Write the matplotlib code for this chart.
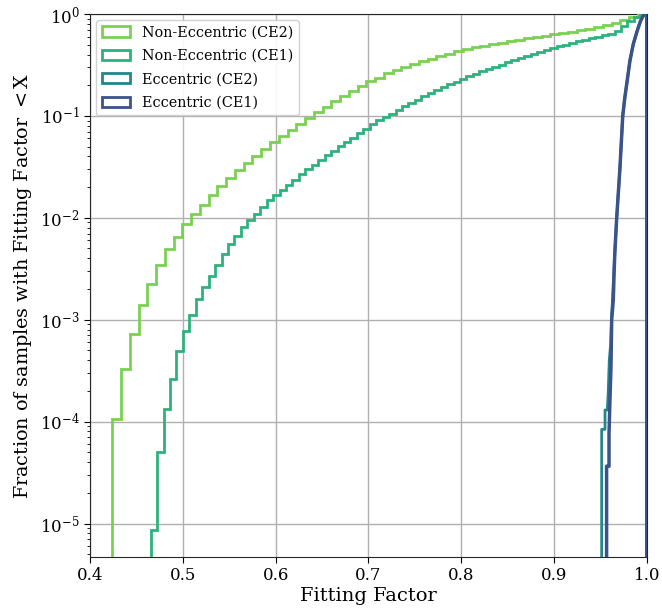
import numpy as np
import matplotlib
matplotlib.use("Agg")
import matplotlib.pyplot as plt
from matplotlib.patches import Patch


# cumulative fraction per bin, non-eccentric searches
ce2_lo = 0.424
ce2_frac = [
    1.05e-4, 3.31e-4, 7.29e-4, 1.40e-3, 2.25e-3, 3.45e-3, 4.94e-3, 6.46e-3,
    8.60e-3, 1.09e-2, 1.35e-2, 1.67e-2, 2.07e-2, 2.48e-2, 2.96e-2, 3.48e-2,
    4.06e-2, 4.75e-2, 5.53e-2, 6.37e-2, 7.26e-2, 8.35e-2, 9.51e-2, 0.108,
    0.122, 0.141, 0.158, 0.177, 0.197, 0.218, 0.238, 0.261,
    0.282, 0.302, 0.323, 0.344, 0.365, 0.385, 0.406, 0.430,
    0.451, 0.470, 0.488, 0.506, 0.523, 0.541, 0.559, 0.577,
    0.595, 0.613, 0.631, 0.650, 0.669, 0.689, 0.710, 0.738,
    0.777, 0.822, 0.879, 0.941, 1.0,
]

ce1_lo = 0.4654
ce1_frac = [
    8.59e-6, 5.04e-5, 1.34e-4, 2.60e-4, 4.89e-4, 7.67e-4, 1.12e-3, 1.58e-3,
    2.10e-3, 2.66e-3, 3.41e-3, 4.37e-3, 5.56e-3, 6.70e-3, 8.09e-3, 9.41e-3,
    1.09e-2, 1.29e-2, 1.48e-2, 1.66e-2, 1.88e-2, 2.12e-2, 2.36e-2, 2.66e-2,
    2.98e-2, 3.33e-2, 3.70e-2, 4.15e-2, 4.57e-2, 5.04e-2, 5.53e-2, 6.12e-2,
    6.74e-2, 7.48e-2, 8.27e-2, 9.04e-2, 9.73e-2, 0.105, 0.115, 0.124,
    0.133, 0.144, 0.155, 0.166, 0.178, 0.190, 0.204, 0.217,
    0.230, 0.244, 0.258, 0.273, 0.288, 0.303, 0.318, 0.335,
    0.352, 0.369, 0.387, 0.405, 0.424, 0.443, 0.463, 0.482,
    0.501, 0.521, 0.540, 0.560, 0.579, 0.599, 0.620, 0.641,
    0.678, 0.759, 0.860, 0.941, 1.0,
]

# eccentric searches: fitting factor vs cumulative fraction
ecc_ce2_ff = [0.9514, 0.9514, 0.9550, 0.9550, 0.9575, 0.9585, 0.9596, 0.9611,
              0.9621, 0.9657, 0.9676, 0.9711, 0.9741, 0.9763, 0.9784, 0.9819,
              0.9855, 0.9896, 0.9932, 0.9962, 0.9990, 1.0, 1.0]
ecc_ce2_frac = [1e-7, 8.4e-5, 8.4e-5, 1.3e-4, 1.3e-4, 2.0e-4, 4.0e-4, 5.8e-4,
                1.07e-3, 4.8e-3, 1.0e-2, 3.1e-2, 0.1, 0.15, 0.206, 0.35,
                0.508, 0.68, 0.85, 0.962, 0.995, 1.0, 1e-7]

ecc_ce1_ff = [0.9567, 0.9567, 0.9593, 0.9593, 0.9603, 0.9614, 0.9622, 0.9639,
              0.9650, 0.9657, 0.9676, 0.9711, 0.9741, 0.9763, 0.9784, 0.9819,
              0.9855, 0.9896, 0.9932, 0.9962, 0.9990, 1.0, 1.0]
ecc_ce1_frac = [1e-7, 3.65e-5, 3.65e-5, 7.5e-5, 1.6e-4, 3.4e-4, 1.0e-3, 1.55e-3,
                3.3e-3, 4.8e-3, 1.0e-2, 3.1e-2, 0.1, 0.15, 0.206, 0.35,
                0.508, 0.68, 0.85, 0.962, 0.995, 1.0, 1e-7]

labels = ["Non-Eccentric (CE2)", "Non-Eccentric (CE1)", "Eccentric (CE2)", "Eccentric (CE1)"]
colors = ["#7ad151", "#2db27d", "#23868d", "#3b528b"]

plt.rcParams["font.family"] = "DejaVu Serif"
plt.rcParams["mathtext.fontset"] = "dejavuserif"

fig = plt.figure(figsize=(6.62, 6.08), dpi=100)
ax = fig.add_axes([0.136, 0.084, 0.841, 0.893])
ax.grid(True, which="major", color="#b0b0b0", linewidth=1.0, zorder=0)

ce2_edges = np.linspace(ce2_lo, 1.0, len(ce2_frac) + 1)
ce1_edges = np.linspace(ce1_lo, 1.0, len(ce1_frac) + 1)
ax.stairs(ce2_frac, ce2_edges, baseline=1e-7, color=colors[0], linewidth=2, zorder=3)
ax.stairs(ce1_frac, ce1_edges, baseline=1e-7, color=colors[1], linewidth=2, zorder=3)
ax.plot(ecc_ce2_ff, ecc_ce2_frac, color=colors[2], linewidth=2, zorder=4)
ax.plot(ecc_ce1_ff, ecc_ce1_frac, color=colors[3], linewidth=2.5, zorder=5)

ax.set_yscale("log")
ax.set_xlim(0.4, 1.0)
ax.set_ylim(4.7e-6, 1.0)
ax.set_xticks([0.4, 0.5, 0.6, 0.7, 0.8, 0.9, 1.0])
ax.tick_params(axis="both", which="major", labelsize=12, direction="out", length=4)
ax.tick_params(axis="y", which="minor", direction="out", length=2)
ax.set_xlabel("Fitting Factor", fontsize=14, labelpad=2)
ax.set_ylabel(r"Fraction of samples with Fitting Factor $<$X", fontsize=13.8)
for s in ax.spines.values():
    s.set_color("#262626")

handles = [Patch(facecolor="white", edgecolor=c, linewidth=2) for c in colors]
ax.legend(handles, labels, loc="upper left", fontsize=10.4, handlelength=2.0,
          labelspacing=0.65, framealpha=0.9, borderaxespad=0.4)

fig.savefig("out.png", dpi=100)
